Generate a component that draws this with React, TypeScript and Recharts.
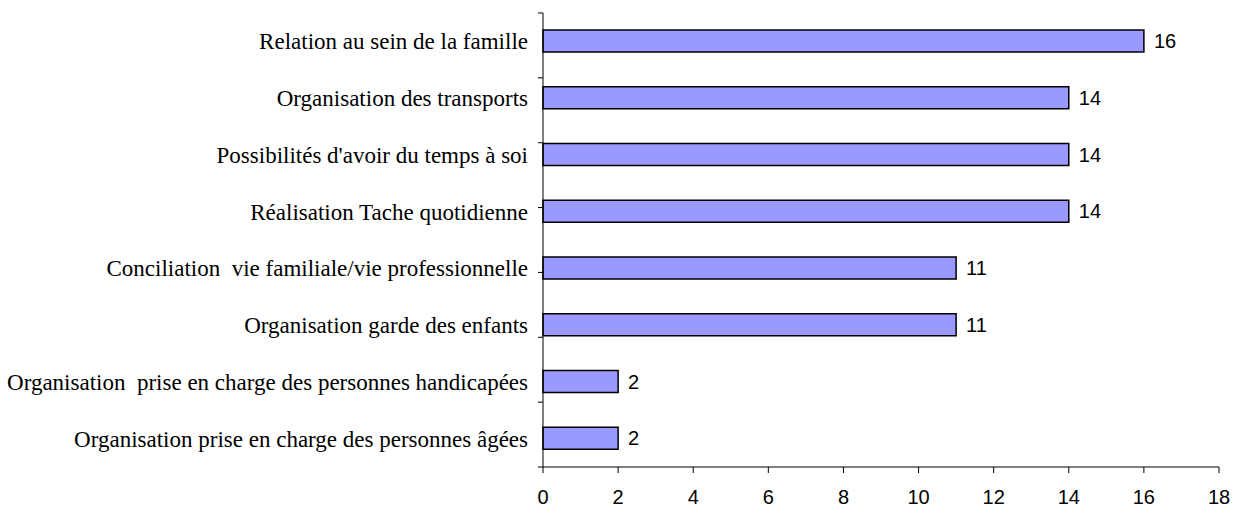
import React from "react";
import { BarChart, Bar, XAxis, YAxis, LabelList } from "recharts";

const categories = [
  "Relation au sein de la famille",
  "Organisation des transports",
  "Possibilités d'avoir du temps à soi",
  "Réalisation Tache quotidienne",
  "Conciliation  vie familiale/vie professionnelle",
  "Organisation garde des enfants",
  "Organisation  prise en charge des personnes handicapées",
  "Organisation prise en charge des personnes âgées",
];
const values = [16, 14, 14, 14, 11, 11, 2, 2];
const xTicks = [0, 2, 4, 6, 8, 10, 12, 14, 16, 18];
const boundaryTicks = [0, 1, 2, 3, 4, 5, 6, 7, 8];

const data = categories.map((name, i) => ({ name, value: values[i] }));

const CatTick = (props: any) => {
  const { x, y, payload } = props;
  return (
    <text
      x={x}
      y={y}
      dy="0.35em"
      textAnchor="end"
      fill="#000"
      style={{ fontFamily: "'Liberation Serif', 'Times New Roman', serif", fontSize: 23, whiteSpace: "pre" }}
    >
      {payload.value}
    </text>
  );
};

const EmptyTick = () => <g />;

export default function App() {
  return (
    <div style={{ position: "absolute", left: 0, top: 0, background: "#fff" }}>
      <BarChart
        width={1234}
        height={507}
        data={data}
        layout="vertical"
        margin={{ top: 13, right: 15, bottom: 0, left: 0 }}
      >
        <XAxis
          type="number"
          domain={[0, 18]}
          ticks={xTicks}
          interval={0}
          tickSize={6}
          tickMargin={17}
          height={40}
          axisLine={{ stroke: "#000" }}
          tickLine={{ stroke: "#000" }}
          tick={{ fill: "#000", fontSize: 20, fontFamily: "'Liberation Sans', Arial, sans-serif" }}
        />
        <YAxis
          yAxisId="bounds"
          type="number"
          domain={[0, 8]}
          ticks={boundaryTicks}
          interval={0}
          width={1}
          tickSize={5}
          tick={EmptyTick}
          axisLine={{ stroke: "#000" }}
          tickLine={{ stroke: "#000" }}
          allowDataOverflow
        />
        <YAxis
          yAxisId="cat"
          type="category"
          dataKey="name"
          width={542}
          axisLine={false}
          tickLine={false}
          tickSize={6}
          tickMargin={8}
          interval={0}
          tick={<CatTick />}
        />
        <Bar
          yAxisId="cat"
          dataKey="value"
          fill="#9999FF"
          stroke="#000"
          strokeWidth={1.5}
          barSize={22}
          isAnimationActive={false}
        >
          <LabelList
            dataKey="value"
            position="right"
            offset={10}
            fill="#000"
            style={{ fontFamily: "'Liberation Sans', Arial, sans-serif", fontSize: 20 }}
          />
        </Bar>
      </BarChart>
    </div>
  );
}
